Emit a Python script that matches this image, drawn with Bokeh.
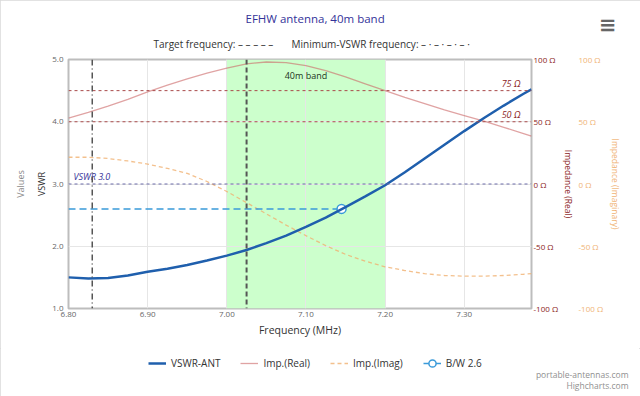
from bokeh.plotting import figure
from bokeh.layouts import column
from bokeh.models import (Range1d, LinearAxis, FixedTicker, PrintfTickFormatter, CustomJSTickFormatter,
                          Span, BoxAnnotation, Label, Legend, LegendItem, Title)
from bokeh.embed import file_html
from bokeh.resources import INLINE

FONT = "Open Sans"

# ---------------- data ----------------
freq = [6.800, 6.825, 6.850, 6.875, 6.900, 6.925, 6.950, 6.975, 7.000, 7.025, 7.050, 7.075,
        7.100, 7.125, 7.150, 7.175, 7.200, 7.225, 7.250, 7.275, 7.300, 7.325, 7.350, 7.375, 7.385]
vswr = [1.50, 1.48, 1.49, 1.53, 1.59, 1.64, 1.70, 1.77, 1.85, 1.94, 2.05, 2.17,
        2.31, 2.46, 2.63, 2.80, 2.98, 3.19, 3.41, 3.63, 3.85, 4.06, 4.26, 4.45, 4.52]
imp_real = [53, 57.5, 62.5, 68, 74, 79.5, 84.5, 89, 93, 96.5, 98, 97.5,
            95, 91, 86, 80.5, 75, 69.5, 64.5, 59.5, 55, 50.5, 45.5, 40.5, 38.5]
imp_imag = [21.5, 21.5, 20.5, 18.5, 16, 12.5, 8.5, 2, -6, -15, -24, -33,
            -41.5, -49.5, -56.5, -62, -66.5, -69.5, -72, -73.5, -74, -74, -73.5, -72.5, -72]
bw_freq = [6.80, 7.145]
bw_vswr = [2.6, 2.6]
band = [7.0, 7.2]
band_label = "40m band"
target_freq = 7.025
min_vswr_freq = 6.83
vswr_limit = 3.0
imp_refs = [75, 50]
x_ticks = [6.8, 6.9, 7.0, 7.1, 7.2, 7.3]
vswr_ticks = [1, 2, 3, 4, 5]
imp_ticks = [-100, -50, 0, 50, 100]

title_text = "EFHW antenna,  40m band"
subtitle_text = ("Target frequency: \u2013 \u2013 \u2013 \u2013 \u2013\u00a0\u00a0\u00a0\u00a0\u00a0\u00a0\u00a0"
                 "Minimum-VSWR frequency: \u2013\u00a0\u00b7\u00a0\u2013\u00a0\u00b7\u00a0\u2013\u00a0\u00b7\u00a0\u2013\u00a0\u00b7")
series_names = ["VSWR-ANT", "Imp.(Real)", "Imp.(Imag)", "B/W 2.6"]
credits = ["portable-antennas.com", "Highcharts.com"]

# series styles
S_VSWR = dict(line_color="#1f5fad", line_width=2.5)
S_REAL = dict(line_color="#cc6666", line_alpha=0.6, line_width=1.3)
S_IMAG = dict(line_color="#f0b070", line_alpha=0.8, line_width=1.3, line_dash="4 3")
S_BW = dict(line_color="#3a9ad9", line_width=1.5, line_dash="7 4")
S_BWM = dict(marker="circle", fill_color="white", line_color="#3a9ad9", line_width=1.5)

# ---------------- main chart ----------------
p = figure(width=640, height=348, output_backend="svg", toolbar_location=None,
           x_range=Range1d(freq[0], freq[-1]), y_range=Range1d(1, 5),
           min_border_left=68, min_border_right=109, min_border_top=59, min_border_bottom=40,
           background_fill_color="white", border_fill_color="white")
p.extra_y_ranges = {"imp": Range1d(-100, 100)}
p.outline_line_color = "#bdbdbd"
p.outline_line_width = 2

# main title (outermost)
p.title.text = title_text
p.title.text_font = FONT
p.title.text_font_size = "11.5px"
p.title.text_font_style = "normal"
p.title.text_color = "#333399"
p.title.align = "left"
p.title.offset = 177
p.title.vertical_align = "bottom"
p.title.standoff = -5.8

# subtitle (closest to the frame)
p.add_layout(Title(text=subtitle_text, text_font=FONT, text_font_size="10px", text_font_style="normal",
                   text_color="#333333", align="left", offset=85, vertical_align="top",
                   standoff=14.4), "above")
# context-menu icon
p.add_layout(Title(text="\u2261", text_font="DejaVu Sans", text_font_size="21px", text_font_style="bold",
                   text_color="#666666", align="right", offset=-85, vertical_align="top",
                   standoff=-20.2), "above")


def style_axis(ax, label_color="#666666", size="8px"):
    ax.axis_line_color = None
    ax.major_tick_line_color = None
    ax.minor_tick_line_color = None
    ax.major_tick_out = 0
    ax.major_tick_in = 0
    ax.minor_tick_out = 0
    ax.major_label_text_font = FONT
    ax.major_label_text_font_size = size
    ax.major_label_text_color = label_color
    ax.axis_label_text_font = FONT
    ax.axis_label_text_font_style = "normal"


xa = p.xaxis[0]
style_axis(xa)
xa.ticker = FixedTicker(ticks=x_ticks)
xa.formatter = PrintfTickFormatter(format="%.2f")
xa.major_label_standoff = 3
xa.axis_label = "Frequency (MHz)"
xa.axis_label_text_font_size = "10.5px"
xa.axis_label_text_color = "#333333"
xa.axis_label_standoff = 3

ya = p.yaxis[0]
style_axis(ya)
ya.ticker = FixedTicker(ticks=vswr_ticks)
ya.formatter = PrintfTickFormatter(format="%.1f")
ya.major_label_standoff = 5
ya.axis_label = "VSWR"
ya.axis_label_text_font_size = "9px"
ya.axis_label_text_color = "#333333"
ya.axis_label_standoff = 1

va = LinearAxis(ticker=FixedTicker(ticks=[]), axis_label="Values")
style_axis(va)
va.axis_label_text_font_size = "9px"
va.axis_label_text_color = "#888888"
va.axis_label_standoff = 6
p.add_layout(va, "left")

ra1 = LinearAxis(y_range_name="imp", ticker=FixedTicker(ticks=imp_ticks),
                 formatter=CustomJSTickFormatter(code="return tick + ' \u03a9'"),
                 axis_label="Impedance (Real)")
style_axis(ra1, label_color="#8b2323")
ra1.major_label_standoff = 2
ra1.axis_label_text_font_size = "8.5px"
ra1.axis_label_text_color = "#8b2323"
ra1.axis_label_standoff = 2
p.add_layout(ra1, "right")

ra2 = LinearAxis(y_range_name="imp", ticker=FixedTicker(ticks=imp_ticks),
                 formatter=CustomJSTickFormatter(code="return tick + ' \u03a9'"),
                 axis_label="Impedance (Imaginary)")
style_axis(ra2, label_color="#f0b476")
ra2.major_label_standoff = 1
ra2.axis_label_text_font_size = "8.5px"
ra2.axis_label_text_color = "#f0b476"
ra2.axis_label_standoff = 4
p.add_layout(ra2, "right")

p.xgrid.grid_line_color = "#e6e6e6"
p.ygrid.grid_line_color = "#e6e6e6"

# band
p.add_layout(BoxAnnotation(left=band[0], right=band[1], fill_color="#ccffcc", fill_alpha=1.0,
                           line_color=None, level="image"))
p.add_layout(Label(x=(band[0] + band[1]) / 2, y=5.0, y_offset=-16, text=band_label,
                   text_align="center", text_baseline="middle", text_font=FONT,
                   text_font_size="9px", text_color="#223322"))

# reference lines
for r in imp_refs:
    p.add_layout(Span(location=r, dimension="width", y_range_name="imp", line_color="#a84a4a",
                      line_dash="3 3", line_width=1))
    p.add_layout(Label(x=freq[-1], y=r, y_range_name="imp", x_offset=-11, y_offset=1,
                       text=f"{r} \u03a9", text_align="right", text_baseline="bottom",
                       text_font=FONT, text_font_size="9px", text_font_style="italic",
                       text_color="#8b2323"))
p.add_layout(Span(location=vswr_limit, dimension="width", line_color="#6a6aa8",
                  line_dash="3 3", line_width=1))
p.add_layout(Label(x=freq[0], y=vswr_limit, x_offset=5, y_offset=1, text=f"VSWR {vswr_limit:.1f}",
                   text_align="left", text_baseline="bottom", text_font=FONT,
                   text_font_size="9px", text_font_style="italic", text_color="#333399"))

p.add_layout(Span(location=min_vswr_freq, dimension="height", line_color="#555555",
                  line_dash="6 3 1 3", line_width=1.5))
p.add_layout(Span(location=target_freq, dimension="height", line_color="#555555",
                  line_dash="5 3", line_width=2))

# series
p.line(freq, imp_real, y_range_name="imp", **S_REAL)
p.line(freq, imp_imag, y_range_name="imp", **S_IMAG)
p.line(bw_freq, bw_vswr, **S_BW)
p.scatter(bw_freq[-1:], bw_vswr[-1:], size=9, **S_BWM)
p.line(freq, vswr, **S_VSWR)

# ---------------- legend + credits strip ----------------
q = figure(width=640, height=48, output_backend="svg", toolbar_location=None,
           x_range=Range1d(0, 1), y_range=Range1d(0, 1), min_border=0,
           x_axis_location=None, y_axis_location=None,
           background_fill_color="white", border_fill_color="white")
q.outline_line_color = None
q.grid.visible = False

k_vswr = q.line(freq, vswr, visible=False, **S_VSWR)
k_real = q.line(freq, imp_real, visible=False, **S_REAL)
k_imag = q.line(freq, imp_imag, visible=False, **S_IMAG)
k_bw = q.line(bw_freq, bw_vswr, visible=False, **S_BW)
k_bwm = q.scatter(bw_freq[-1:], bw_vswr[-1:], visible=False, **S_BWM)

legend = Legend(items=[LegendItem(label=series_names[0], renderers=[k_vswr]),
                       LegendItem(label=series_names[1], renderers=[k_real]),
                       LegendItem(label=series_names[2], renderers=[k_imag]),
                       LegendItem(label=series_names[3], renderers=[k_bw, k_bwm])],
                location=(80, 1), orientation="horizontal", border_line_color=None,
                background_fill_alpha=0, padding=0, margin=0, spacing=20,
                glyph_width=18, glyph_height=20, label_height=14, label_standoff=5,
                label_text_font=FONT, label_text_font_size="10px", label_text_color="#333333")
q.add_layout(legend)

for c, st in zip(credits, [-11.6, 8.4]):
    q.add_layout(Title(text=c, text_font=FONT, text_font_size="8.5px", text_font_style="normal",
                       text_color="#909090", align="right", offset=-97, vertical_align="top",
                       standoff=st), "below")

layout = column(p, q, spacing=0)
layout.styles = {"outline": "1px solid #d9d9d9", "outline-offset": "-1px"}

open("out.html", "w").write(file_html(layout, INLINE))
